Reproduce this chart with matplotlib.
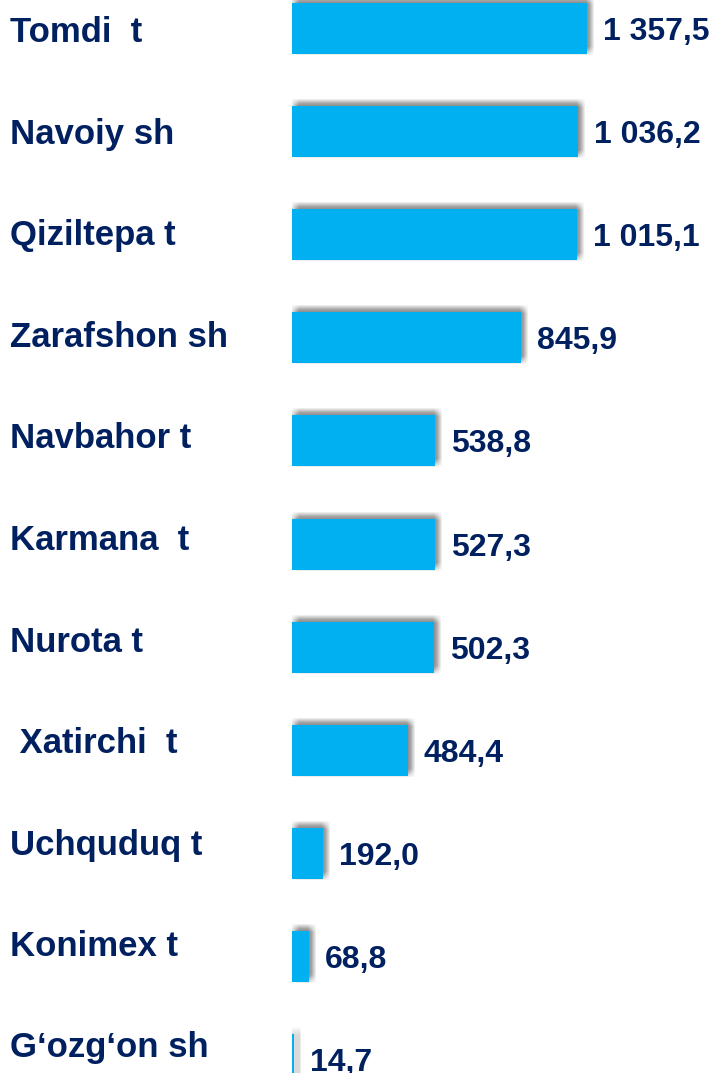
import matplotlib.pyplot as plt
import matplotlib.patheffects as pe

# districts, top to bottom
districts = ["Tomdi  t", "Navoiy sh", "Qiziltepa t", "Zarafshon sh", "Navbahor t",
             "Karmana  t", "Nurota t", " Xatirchi  t", "Uchquduq t", "Konimex t",
             "G\u2018ozg\u2018on sh"]
# printed values
values = [1357.5, 1036.2, 1015.1, 845.9, 538.8, 527.3, 502.3, 484.4, 192.0, 68.8, 14.7]
# drawn bar lengths (same units as values)
bar_lengths = [1357.5, 1315, 1311, 1054, 659, 659, 655, 535, 143, 80, 12]

navy = "#002060"
blue = "#00B0F0"
W, H = 712, 1073

plt.rcParams["font.family"] = ["Liberation Sans", "DejaVu Sans"]

fig = plt.figure(figsize=(W / 100, H / 100), dpi=100)
ax = fig.add_axes([291.5 / W, 0, 348.3 / W, 1])
ax.set_xlim(0, 1600)
pitch = 103.1
ax.set_ylim((H - 28.5) / pitch, -28.5 / pitch)
ax.axis("off")

# blurred gray shadow, shifted up and to the right
px = 72 / 100
shadow = []
for dx in range(-4, 5):
    for dy in range(-4, 5):
        shadow.append(pe.SimplePatchShadow(offset=((3 + dx) * px, (3 + dy) * px),
                                           shadow_rgbFace="#505050", alpha=0.012))
shadow.append(pe.Normal())

ypos = list(range(len(districts)))
bars = ax.barh(ypos, bar_lengths, height=51 / pitch, color=blue, zorder=3)
for b in bars:
    b.set_path_effects(shadow)

for i, (v, L) in enumerate(zip(values, bar_lengths)):
    txt = f"{v:,.1f}".replace(",", " ").replace(".", ",")
    ax.annotate(txt, xy=(L, i), xytext=(11.5, -8.3), textcoords="offset points",
                ha="left", va="baseline", fontsize=23, fontweight="bold",
                color=navy, annotation_clip=False)

for i, name in enumerate(districts):
    fig.text(10 / W, 1 - (42.5 + 101.5 * i) / H, name, ha="left", va="baseline",
             fontsize=25, fontweight="bold", color=navy)

fig.savefig("out.png", dpi=100)
